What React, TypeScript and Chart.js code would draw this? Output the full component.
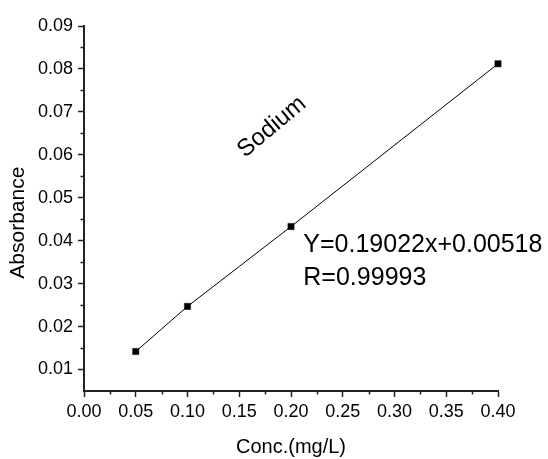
import React, { useEffect, useRef } from "react";
import { Chart, registerables } from "chart.js";

Chart.register(...registerables);

// ---- data ----
const concentrations = [0.05, 0.1, 0.2, 0.4];
const absorbances = [0.0142, 0.0247, 0.0433, 0.0812];

const xTickValues = [0, 0.05, 0.1, 0.15, 0.2, 0.25, 0.3, 0.35, 0.4];
const xTickLabels = ["0.00", "0.05", "0.10", "0.15", "0.20", "0.25", "0.30", "0.35", "0.40"];
const xMinorTicks = [0.025, 0.075, 0.125, 0.175, 0.225, 0.275, 0.325, 0.375];

const yTickValues = [0.01, 0.02, 0.03, 0.04, 0.05, 0.06, 0.07, 0.08, 0.09];
const yTickLabels = ["0.01", "0.02", "0.03", "0.04", "0.05", "0.06", "0.07", "0.08", "0.09"];
const yMinorTicks = [0.015, 0.025, 0.035, 0.045, 0.055, 0.065, 0.075, 0.085];

const seriesName = "Sodium";
const equationText = "Y=0.19022x+0.00518";
const rText = "R=0.99993";
const xTitle = "Conc.(mg/L)";
const yTitle = "Absorbance";

const FONT = "'Liberation Sans', Arial, sans-serif";

const minorTicksAndNotes = {
  id: "minorTicksAndNotes",
  afterDraw(chart: any) {
    const ctx = chart.ctx;
    const xs = chart.scales.x;
    const ys = chart.scales.y;
    const area = chart.chartArea;
    ctx.save();
    // minor ticks
    ctx.strokeStyle = "#222";
    ctx.lineWidth = 1.5;
    ctx.beginPath();
    xMinorTicks.forEach((v) => {
      const px = Math.round(xs.getPixelForValue(v)) + 0.5;
      ctx.moveTo(px, area.bottom);
      ctx.lineTo(px, area.bottom + 3.5);
    });
    yMinorTicks.forEach((v) => {
      const py = Math.round(ys.getPixelForValue(v)) + 0.5;
      ctx.moveTo(area.left, py);
      ctx.lineTo(area.left - 3.5, py);
    });
    ctx.stroke();

    ctx.fillStyle = "#000";
    // y title
    ctx.save();
    ctx.font = `21px ${FONT}`;
    ctx.textAlign = "center";
    ctx.textBaseline = "middle";
    ctx.translate(18, ys.getPixelForValue(0.0442));
    ctx.rotate(-Math.PI / 2);
    ctx.fillText(yTitle, 0, 0);
    ctx.restore();

    // series name, rotated
    ctx.save();
    ctx.font = `24px ${FONT}`;
    ctx.textAlign = "center";
    ctx.textBaseline = "middle";
    ctx.translate(xs.getPixelForValue(0.1815), ys.getPixelForValue(0.0665));
    ctx.rotate((-40 * Math.PI) / 180);
    ctx.fillText(seriesName, 0, 0);
    ctx.restore();

    // equation
    ctx.font = `25px ${FONT}`;
    ctx.textAlign = "left";
    ctx.textBaseline = "alphabetic";
    ctx.fillText(equationText, xs.getPixelForValue(0.2119), ys.getPixelForValue(0.03745));
    ctx.fillText(rText, xs.getPixelForValue(0.2119), ys.getPixelForValue(0.0297));
    ctx.restore();
  },
};

export default function App() {
  const ref = useRef<HTMLCanvasElement>(null);

  useEffect(() => {
    if (!ref.current) return;
    const chart = new Chart(ref.current, {
      type: "scatter",
      data: {
        datasets: [
          {
            label: seriesName,
            data: concentrations.map((c, i) => ({ x: c, y: absorbances[i] })),
            showLine: true,
            clip: false,
            borderColor: "#000",
            borderWidth: 1,
            backgroundColor: "#000",
            pointStyle: "rect",
            pointRadius: 4.4,
            pointBorderWidth: 0.5,
            pointBorderColor: "#000",
            pointBackgroundColor: "#000",
          },
        ],
      },
      options: {
        animation: false,
        responsive: true,
        maintainAspectRatio: false,
        layout: { padding: { top: 26, right: 50, left: 0, bottom: 0 } },
        plugins: {
          legend: { display: false },
          tooltip: { enabled: false },
        },
        scales: {
          x: {
            type: "linear",
            min: 0,
            max: 0.4,
            afterFit: (s: any) => {
              s.height = 68;
            },
            afterBuildTicks: (s: any) => {
              s.ticks = xTickValues.map((v) => ({ value: v }));
            },
            ticks: {
              callback: (v: any) => {
                const i = xTickValues.findIndex((t) => Math.abs(t - Number(v)) < 1e-9);
                return i >= 0 ? xTickLabels[i] : "";
              },
              color: "#000",
              font: { family: FONT, size: 18 },
              padding: 4,
              maxRotation: 0,
              autoSkip: false,
            },
            grid: {
              drawOnChartArea: false,
              drawTicks: true,
              tickLength: 6,
              tickColor: "#222",
              tickWidth: 1.5,
            },
            border: { display: true, color: "#222", width: 2 },
            title: {
              display: true,
              text: xTitle,
              color: "#000",
              font: { family: FONT, size: 20 },
              padding: { top: 0, bottom: 0 },
            },
          },
          y: {
            type: "linear",
            min: 0.005,
            max: 0.09,
            afterFit: (s: any) => {
              s.width = 84;
            },
            afterBuildTicks: (s: any) => {
              s.ticks = yTickValues.map((v) => ({ value: v }));
            },
            ticks: {
              callback: (v: any) => {
                const i = yTickValues.findIndex((t) => Math.abs(t - Number(v)) < 1e-9);
                return i >= 0 ? yTickLabels[i] : "";
              },
              color: "#000",
              font: { family: FONT, size: 18 },
              padding: 5,
              autoSkip: false,
            },
            grid: {
              drawOnChartArea: false,
              drawTicks: true,
              tickLength: 6,
              tickColor: "#222",
              tickWidth: 1.5,
            },
            border: { display: true, color: "#222", width: 2 },
          },
        },
      },
      plugins: [minorTicksAndNotes],
    });
    return () => chart.destroy();
  }, []);

  return (
    <div style={{ position: "fixed", left: 0, top: 0, width: 548, height: 459, background: "#fff" }}>
      <canvas ref={ref} />
    </div>
  );
}
